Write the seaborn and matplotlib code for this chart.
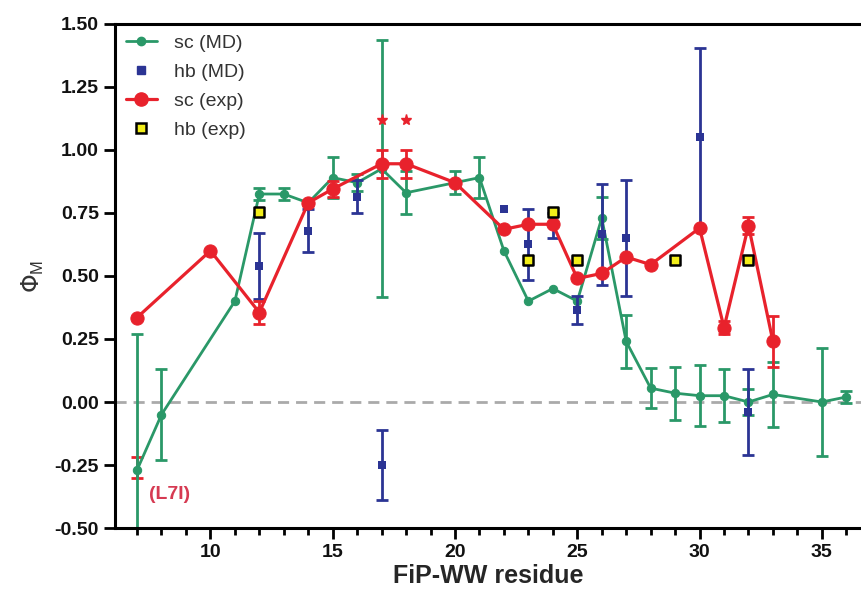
import matplotlib

matplotlib.use("Agg")
import matplotlib.pyplot as plt
import numpy as np
import pandas as pd
import seaborn as sns
from matplotlib.lines import Line2D
from matplotlib.ticker import MultipleLocator, FormatStrFormatter

# sc (MD)
sc_md_x = [7, 8, 11, 12, 13, 14, 15, 16, 17, 18, 20, 21, 22, 23, 24, 25, 26, 27,
           28, 29, 30, 31, 32, 33, 35, 36]
sc_md_y = [-0.27, -0.05, 0.40, 0.825, 0.825, 0.79, 0.89, 0.87, 0.925, 0.83, 0.87,
           0.89, 0.60, 0.40, 0.45, 0.40, 0.73, 0.24, 0.055, 0.035, 0.025, 0.025,
           0.0, 0.03, 0.0, 0.02]
sc_md_err = [0.54, 0.18, 0, 0.022, 0.022, 0, 0.08, 0.035, 0.51, 0.085, 0.045,
             0.08, 0, 0, 0, 0, 0.085, 0.105, 0.08, 0.105, 0.12, 0.105, 0.05,
             0.13, 0.215, 0.025]

# hb (MD)
hb_md_x = [12, 14, 16, 17, 22, 23, 24, 25, 26, 27, 30, 32]
hb_md_y = [0.54, 0.68, 0.815, -0.25, 0.765, 0.625, 0.70, 0.365, 0.665, 0.65,
           1.05, -0.04]
hb_md_err = [0.13, 0.085, 0.065, 0.14, 0, 0.14, 0.05, 0.055, 0.2, 0.23, 0.355,
             0.17]

# sc (exp)
sc_exp_x = [7, 10, 12, 14, 15, 17, 18, 20, 22, 23, 24, 25, 26, 27, 28, 30, 31,
            32, 33]
sc_exp_y = [0.335, 0.60, 0.355, 0.79, 0.845, 0.945, 0.945, 0.87, 0.685, 0.705,
            0.705, 0.49, 0.51, 0.575, 0.545, 0.69, 0.295, 0.70, 0.24]
sc_exp_err = [0, 0, 0.045, 0, 0.03, 0.055, 0.055, 0, 0, 0, 0, 0, 0, 0, 0, 0,
              0.027, 0.035, 0.1]

# hb (exp)
hb_exp_x = [12, 23, 24, 25, 29, 32]
hb_exp_y = [0.755, 0.565, 0.755, 0.565, 0.565, 0.565]

# L7I mutant and starred residues
l7i_x, l7i_y, l7i_err = 7, -0.26, 0.04
star_x = [17, 18]
star_y = [1.12, 1.12]

green = "#2a9868"
blue = "#2b3494"
red = "#e8222c"
yellow = "#f2ee1a"

sns.set_style("ticks")
plt.rcParams["font.family"] = ["Liberation Sans", "DejaVu Sans"]
plt.rcParams["axes.unicode_minus"] = False

fig = plt.figure(figsize=(8.61, 5.96), dpi=100)
ax = fig.add_axes([0.1336, 0.114, 0.8664, 0.846])

ax.axhline(0, color="#aaaaaa", lw=2, ls=(0, (4, 2.5)), zorder=0)

cap = dict(capsize=4.5, elinewidth=2, capthick=2, fmt="none")

# L7I error bar (sits behind the green point)
ax.errorbar([l7i_x], [l7i_y], yerr=[l7i_err], ecolor=red, zorder=1, **cap)

df_sc_md = pd.DataFrame({"x": sc_md_x, "y": sc_md_y, "err": sc_md_err})
m = df_sc_md["err"] > 0
ax.errorbar(df_sc_md.x[m], df_sc_md.y[m], yerr=df_sc_md.err[m], ecolor=green,
            zorder=2, **cap)
sns.lineplot(data=df_sc_md, x="x", y="y", sort=False, color=green, lw=2,
             marker="o", markersize=6, markeredgecolor=green, ax=ax, zorder=3)

df_hb_md = pd.DataFrame({"x": hb_md_x, "y": hb_md_y, "err": hb_md_err})
m = df_hb_md["err"] > 0
ax.errorbar(df_hb_md.x[m], df_hb_md.y[m], yerr=df_hb_md.err[m], ecolor=blue,
            zorder=4, **cap)
sns.scatterplot(data=df_hb_md, x="x", y="y", color=blue, marker="s", s=36,
                edgecolor=blue, linewidth=0, ax=ax, zorder=5)

df_sc_exp = pd.DataFrame({"x": sc_exp_x, "y": sc_exp_y, "err": sc_exp_err})
m = df_sc_exp["err"] > 0
ax.errorbar(df_sc_exp.x[m], df_sc_exp.y[m], yerr=df_sc_exp.err[m], ecolor=red,
            zorder=6, **cap)
sns.lineplot(data=df_sc_exp, x="x", y="y", sort=False, color=red, lw=2.3,
             marker="o", markersize=9.5, markeredgecolor=red, ax=ax, zorder=7)

df_hb_exp = pd.DataFrame({"x": hb_exp_x, "y": hb_exp_y})
sns.scatterplot(data=df_hb_exp, x="x", y="y", color=yellow, marker="s", s=50,
                edgecolor="black", linewidth=1.8, ax=ax, zorder=8)

ax.plot(star_x, star_y, ls="none", marker="*", ms=8, color=red, zorder=8)
ax.text(7.5, -0.365, "(L7I)", color="#d63a52", fontsize=14, fontweight="bold",
        va="center", ha="left")

ax.set_xlim(6.1, 36.6)
ax.set_ylim(-0.5, 1.5)
ax.xaxis.set_major_locator(MultipleLocator(5))
ax.xaxis.set_minor_locator(MultipleLocator(1))
ax.yaxis.set_major_locator(MultipleLocator(0.25))
ax.yaxis.set_major_formatter(FormatStrFormatter("%.2f"))
ax.tick_params(axis="both", which="major", length=8, width=2, labelsize=14,
               direction="out", color="black", labelcolor="#111111")
ax.tick_params(axis="x", which="minor", length=5, width=2, direction="out",
               color="black")
for lab in ax.get_xticklabels() + ax.get_yticklabels():
    lab.set_fontweight("bold")

for side in ["left", "bottom", "top"]:
    ax.spines[side].set_linewidth(2.2)
    ax.spines[side].set_color("black")
ax.spines["right"].set_visible(False)

ax.set_xlabel("FiP-WW residue", fontsize=18, fontweight="bold", labelpad=2)
ax.set_ylabel(r"$\Phi_\mathregular{M}$", fontsize=17, color="#333333",
              labelpad=6)

handles = [
    Line2D([], [], color=green, lw=2, marker="o", ms=6),
    Line2D([], [], color=blue, ls="none", marker="s", ms=6),
    Line2D([], [], color=red, lw=2.3, marker="o", ms=9.5),
    Line2D([], [], color=yellow, ls="none", marker="s", ms=7,
           markeredgecolor="black", markeredgewidth=1.8),
]
labels = ["sc (MD)", "hb (MD)", "sc (exp)", "hb (exp)"]
ax.legend(handles, labels, loc="upper left", frameon=False, fontsize=14,
          handlelength=1.6, handletextpad=0.9, labelspacing=0.58,
          borderaxespad=0.15, labelcolor="#333333")

fig.savefig("out.png", dpi=100)
